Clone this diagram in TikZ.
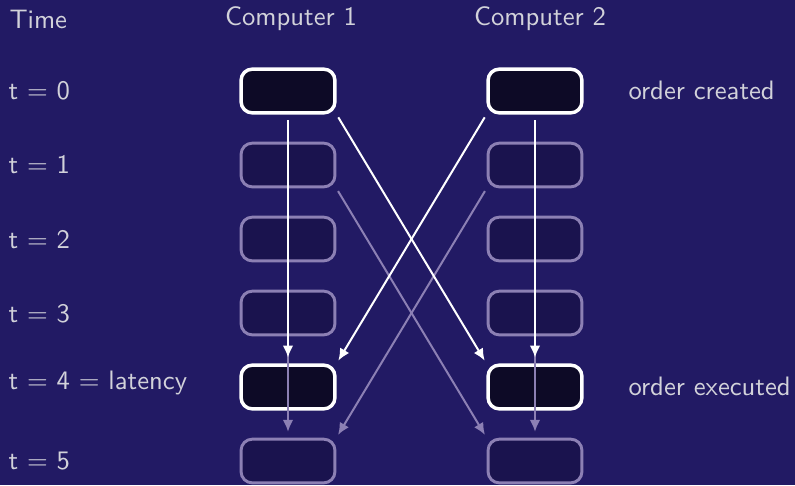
\documentclass[tikz,border=0pt]{standalone}
\usetikzlibrary{arrows.meta}
\definecolor{bgblue}{RGB}{34,26,100}
\definecolor{boxdark}{RGB}{13,10,38}
\definecolor{boxfaint}{RGB}{26,19,78}
\definecolor{faintline}{RGB}{140,128,180}
\definecolor{txt}{RGB}{210,210,218}
\begin{document}
\begin{tikzpicture}[x=0.375pt,y=-0.375pt,
  lbl/.style={text=txt,font=\sffamily,inner sep=0pt},
  active/.style={draw=white,fill=boxdark,line width=1.3pt,rounded corners=4.2pt,minimum width=35.2pt,minimum height=16.4pt,inner sep=0pt},
  idle/.style={draw=faintline,fill=boxfaint,line width=1.1pt,rounded corners=4.2pt,minimum width=35.2pt,minimum height=16.4pt,inner sep=0pt},
  msg/.style={draw=white,line width=0.75pt,-{Latex[length=4.5pt,width=4pt]}},
  fmsg/.style={draw=faintline,line width=0.75pt,-{Latex[length=4.5pt,width=4pt]}}]
\fill[bgblue] (0,0) rectangle (795,485);
\useasboundingbox (0,0) rectangle (795,485);
% headers
\node[lbl,anchor=west] (time) at (9,19) {Time};
\node[lbl] (c1) at (291,19) {Computer 1};
\node[lbl] (c2) at (540,19) {Computer 2};
% time labels
\node[lbl,anchor=west] (l0) at (8,91) {t $=$ 0};
\node[lbl,anchor=west] (l1) at (8,165) {t $=$ 1};
\node[lbl,anchor=west] (l2) at (8,240) {t $=$ 2};
\node[lbl,anchor=west] (l3) at (8,314) {t $=$ 3};
\node[lbl,anchor=west] (l4) at (8,383) {t $=$ 4 $=$ latency};
\node[lbl,anchor=west] (l5) at (8,461) {t $=$ 5};
% boxes
\node[active] (a0) at (288,91) {};
\node[idle] (a1) at (288,165) {};
\node[idle] (a2) at (288,239) {};
\node[idle] (a3) at (288,313) {};
\node[active] (a4) at (288,387) {};
\node[idle] (a5) at (288,461) {};
\node[active] (b0) at (535,91) {};
\node[idle] (b1) at (535,165) {};
\node[idle] (b2) at (535,239) {};
\node[idle] (b3) at (535,313) {};
\node[active] (b4) at (535,387) {};
\node[idle] (b5) at (535,461) {};
% right labels
\node[lbl,anchor=west] (oc) at (628,90) {order created};
\node[lbl,anchor=west] (oe) at (628,386) {order executed};
% faint arrows
\draw[fmsg,shorten <=2.2pt,shorten >=2.2pt] (a1.south) -- (a5.north);
\draw[fmsg,shorten <=2.2pt,shorten >=2.2pt] (b1.south) -- (b5.north);
\draw[fmsg,shorten <=1.2pt,shorten >=1.2pt] (a1.south east) -- (b5.north west);
\draw[fmsg,shorten <=1.2pt,shorten >=1.2pt] (b1.south west) -- (a5.north east);
% main arrows
\draw[msg,shorten <=2.2pt,shorten >=2.2pt] (a0.south) -- (a4.north);
\draw[msg,shorten <=2.2pt,shorten >=2.2pt] (b0.south) -- (b4.north);
\draw[msg,shorten <=1.2pt,shorten >=1.2pt] (a0.south east) -- (b4.north west);
\draw[msg,shorten <=1.2pt,shorten >=1.2pt] (b0.south west) -- (a4.north east);
\end{tikzpicture}
\end{document}
